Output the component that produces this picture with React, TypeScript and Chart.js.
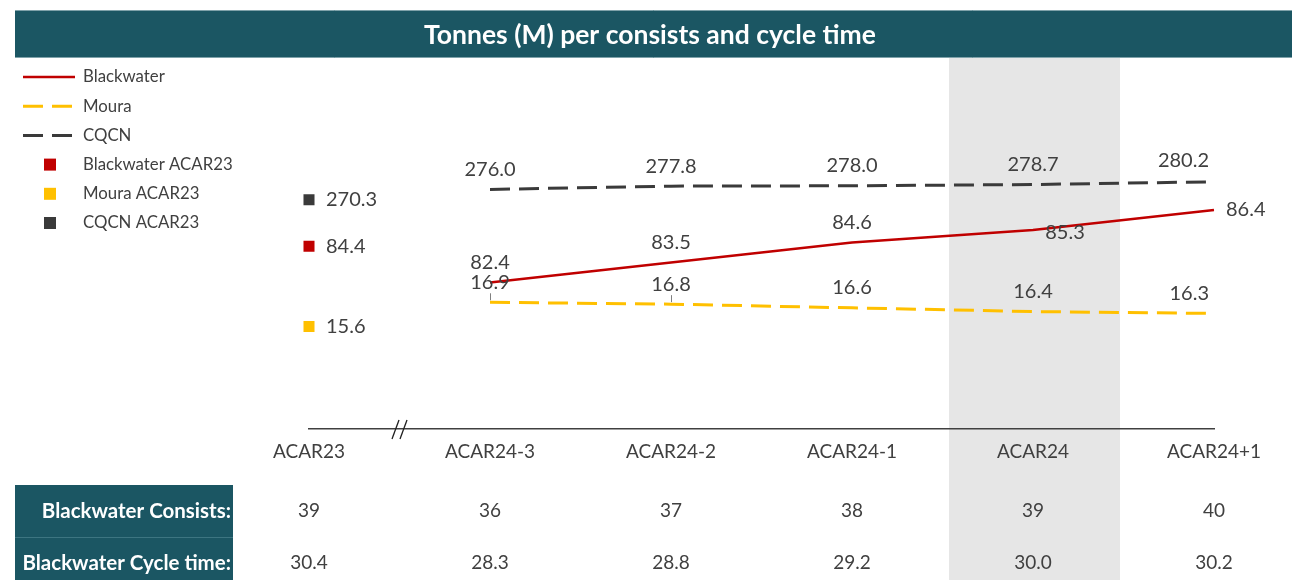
import React, { useEffect, useRef } from "react";
import { Chart, registerables } from "chart.js";

Chart.register(...registerables);

// ---------- DATA ----------
const chartTitle = "Tonnes (M) per consists and cycle time";
const categories = ["ACAR23", "ACAR24-3", "ACAR24-2", "ACAR24-1", "ACAR24", "ACAR24+1"];
const highlightCategory = "ACAR24";

const blackwater = [null, 82.4, 83.5, 84.6, 85.3, 86.4];
const moura = [null, 16.9, 16.8, 16.6, 16.4, 16.3];
const cqcn = [null, 276.0, 277.8, 278.0, 278.7, 280.2];

const blackwaterAcar23 = [84.4, null, null, null, null, null];
const mouraAcar23 = [15.6, null, null, null, null, null];
const cqcnAcar23 = [270.3, null, null, null, null, null];

const tableRowLabels = ["Blackwater Consists:", "Blackwater Cycle time:"];
const blackwaterConsists = [39, 36, 37, 38, 39, 40];
const blackwaterCycleTime = [30.4, 28.3, 28.8, 29.2, 30.0, 30.2];

// ---------- STYLE ----------
const FONT = "Lato, 'Open Sans', sans-serif";
const TEXT = "#404040";
const TEAL = "#1B5663";
const RED = "#C00000";
const YELLOW = "#FFC000";
const DARK = "#3A3A3A";
const BAND = "#E6E6E6";

type Place = { dx: number; dy: number; align: CanvasTextAlign };
const above: Place = { dx: 0, dy: -20, align: "center" };
const labelPlacement: Record<string, Record<number, Place>> = {
  Blackwater: { 4: { dx: 32, dy: 3, align: "center" }, 5: { dx: 12, dy: 0, align: "left" } },
  Moura: { 5: { dx: -5, dy: -20, align: "right" } },
  CQCN: { 5: { dx: -5, dy: -21, align: "right" } },
};

export default function App() {
  const ref = useRef<HTMLCanvasElement | null>(null);

  useEffect(() => {
    const canvas = ref.current;
    if (!canvas) return;

    const decorPlugin = {
      id: "decor",
      beforeDraw(chart: any) {
        const { ctx } = chart;
        const x = chart.scales.x;
        ctx.save();
        ctx.fillStyle = "#ffffff";
        ctx.fillRect(0, 0, chart.width, chart.height);
        // highlight band
        const hi = categories.indexOf(highlightCategory);
        const cx = x.getPixelForValue(hi) + 1.5;
        const step = x.getPixelForValue(1) - x.getPixelForValue(0);
        const bw = step * 0.945;
        ctx.fillStyle = BAND;
        ctx.fillRect(cx - bw / 2, 58, bw, chart.height - 58);
        // title bar
        ctx.fillStyle = TEAL;
        ctx.fillRect(15, 10, chart.width - 15, 48);
        ctx.strokeStyle = "#7FA2AA";
        ctx.lineWidth = 1;
        ctx.beginPath();
        ctx.moveTo(15, 10.5);
        ctx.lineTo(chart.width, 10.5);
        ctx.moveTo(15, 57.5);
        ctx.lineTo(chart.width, 57.5);
        ctx.stroke();
        ctx.fillStyle = "#ffffff";
        ctx.font = `bold 26.5px ${FONT}`;
        ctx.textAlign = "center";
        ctx.textBaseline = "middle";
        ctx.fillText(chartTitle, 650, 35);
        ctx.restore();
      },
      afterDraw(chart: any) {
        const { ctx } = chart;
        const x = chart.scales.x;
        const area = chart.chartArea;
        ctx.save();

        // legend
        const ds = chart.data.datasets;
        ctx.font = `16.8px ${FONT}`;
        ctx.textBaseline = "middle";
        ctx.textAlign = "left";
        ds.forEach((d: any, i: number) => {
          const y = 77 + i * 29.2;
          if (d.showLine === false) {
            ctx.fillStyle = d.backgroundColor;
            ctx.fillRect(44, y - 6, 12, 12);
          } else {
            ctx.strokeStyle = d.borderColor;
            ctx.lineWidth = d.borderWidth;
            ctx.setLineDash(d.borderDash || []);
            ctx.beginPath();
            ctx.moveTo(23, y);
            ctx.lineTo(75, y);
            ctx.stroke();
            ctx.setLineDash([]);
          }
          ctx.fillStyle = TEXT;
          ctx.fillText(d.label, 83, y);
        });

        // data labels
        ctx.font = `20px ${FONT}`;
        ctx.fillStyle = TEXT;
        ds.forEach((d: any, di: number) => {
          const meta = chart.getDatasetMeta(di);
          d.data.forEach((v: number | null, i: number) => {
            if (v === null) return;
            const pt = meta.data[i];
            let p: Place;
            if (d.showLine === false) p = { dx: 17, dy: 0, align: "left" };
            else p = (labelPlacement[d.label] && labelPlacement[d.label][i]) || above;
            ctx.textAlign = p.align;
            ctx.fillText(v.toFixed(1), pt.x + p.dx, pt.y + p.dy);
          });
        });

        // small ticks above Moura points
        const mMeta = chart.getDatasetMeta(1);
        ctx.strokeStyle = "#808080";
        ctx.lineWidth = 1;
        [1, 2].forEach((i) => {
          const pt = mMeta.data[i];
          ctx.beginPath();
          ctx.moveTo(Math.round(pt.x) + 0.5, pt.y - 9);
          ctx.lineTo(Math.round(pt.x) + 0.5, pt.y - 2);
          ctx.stroke();
        });

        // axis break marks
        const bx = (x.getPixelForValue(0) + x.getPixelForValue(1)) / 2;
        const by = area.bottom;
        ctx.strokeStyle = "#202020";
        ctx.lineWidth = 1.3;
        [-4, 4].forEach((o) => {
          ctx.beginPath();
          ctx.moveTo(bx + o - 3.5, by + 10);
          ctx.lineTo(bx + o + 3.5, by - 9);
          ctx.stroke();
        });

        // table
        ctx.fillStyle = TEAL;
        ctx.fillRect(15, 485, 218, chart.height - 485);
        ctx.strokeStyle = "#3D7581";
        ctx.lineWidth = 1;
        ctx.beginPath();
        ctx.moveTo(15, 537.5);
        ctx.lineTo(233, 537.5);
        ctx.stroke();
        const rowY = [511, 563];
        ctx.font = `bold 20.5px ${FONT}`;
        ctx.fillStyle = "#ffffff";
        ctx.textAlign = "right";
        tableRowLabels.forEach((t, r) => ctx.fillText(t, 231, rowY[r]));
        ctx.font = `19px ${FONT}`;
        ctx.fillStyle = TEXT;
        ctx.textAlign = "center";
        categories.forEach((_, i) => {
          const px = x.getPixelForValue(i);
          ctx.fillText(String(blackwaterConsists[i]), px, rowY[0]);
          ctx.fillText(blackwaterCycleTime[i].toFixed(1), px, rowY[1]);
        });

        ctx.restore();
      },
    };

    const chart = new Chart(canvas, {
      type: "line",
      data: {
        labels: categories,
        datasets: [
          { label: "Blackwater", data: blackwater, yAxisID: "yBW", borderColor: RED, backgroundColor: RED, borderWidth: 2.5, pointRadius: 0, tension: 0 },
          { label: "Moura", data: moura, yAxisID: "yMo", borderColor: YELLOW, backgroundColor: YELLOW, borderWidth: 3, borderDash: [20, 9], pointRadius: 0, tension: 0 },
          { label: "CQCN", data: cqcn, yAxisID: "yCQ", borderColor: DARK, backgroundColor: DARK, borderWidth: 3, borderDash: [20, 9], pointRadius: 0, tension: 0 },
          { label: "Blackwater ACAR23", data: blackwaterAcar23, yAxisID: "yBW", showLine: false, pointStyle: "rect", pointRadius: 7.8, pointBorderWidth: 0, borderColor: RED, backgroundColor: RED },
          { label: "Moura ACAR23", data: mouraAcar23, yAxisID: "yMo", showLine: false, pointStyle: "rect", pointRadius: 7.8, pointBorderWidth: 0, borderColor: YELLOW, backgroundColor: YELLOW },
          { label: "CQCN ACAR23", data: cqcnAcar23, yAxisID: "yCQ", showLine: false, pointStyle: "rect", pointRadius: 7.8, pointBorderWidth: 0, borderColor: DARK, backgroundColor: DARK },
        ] as any,
      },
      options: {
        animation: false,
        responsive: false,
        devicePixelRatio: 1,
        layout: { padding: { left: 309, right: 78, top: 60, bottom: 0 } },
        plugins: { legend: { display: false }, title: { display: false }, tooltip: { enabled: false } },
        scales: {
          x: {
            type: "category",
            offset: false,
            grid: { display: false, drawTicks: false },
            border: { display: true, color: "#404040", width: 1.5 },
            ticks: { color: TEXT, font: { family: FONT, size: 19 }, padding: 11, autoSkip: false, maxRotation: 0 },
            afterFit: (s: any) => { s.height = 151; },
          },
          yBW: { display: false, min: 74.32, max: 94.67 },
          yMo: { display: false, min: 10.07, max: 29.96 },
          yCQ: { display: false, min: 144, max: 347.3 },
        },
      } as any,
      plugins: [decorPlugin],
    });

    return () => chart.destroy();
  }, []);

  return (
    <div style={{ position: "absolute", left: 0, top: 0, width: 1292, height: 580 }}>
      <canvas ref={ref} width={1292} height={580} style={{ display: "block" }} />
    </div>
  );
}
